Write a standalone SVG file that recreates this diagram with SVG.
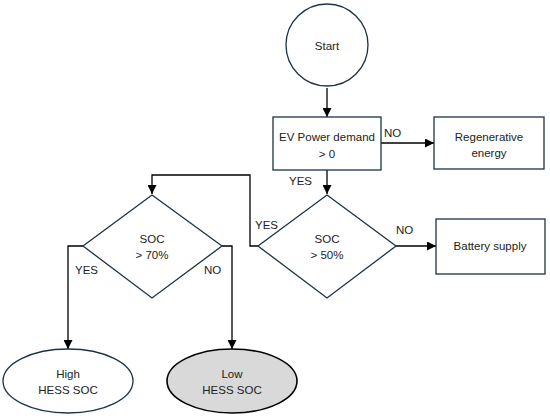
<svg xmlns="http://www.w3.org/2000/svg" width="550" height="418" viewBox="0 0 550 418">
<defs>
<marker id="arr" viewBox="0 0 10 10" refX="10" refY="5" markerWidth="9" markerHeight="9" markerUnits="userSpaceOnUse" orient="auto"><path d="M0,0 L10,5 L0,10 z" fill="#000"/></marker>
<style>
.n{fill:#fff;stroke:#1c3340;stroke-width:1.3}
.g{fill:#d9d9d9;stroke:#000;stroke-width:1.6}
.c{fill:none;stroke:#000;stroke-width:1.3;marker-end:url(#arr)}
.c2{fill:none;stroke:#000;stroke-width:1.3}
text{font-family:"Liberation Sans",Arial,sans-serif;font-size:11.5px;fill:#222;text-anchor:middle}
.l{text-anchor:start}
</style>
</defs>
<rect width="550" height="418" fill="#fff"/>
<g id="connectors">
<path class="c" d="M327,88 V117"/>
<path class="c" d="M381,143 H434"/>
<path class="c" d="M327,170 V194"/>
<path class="c" d="M396,246 H436"/>
<path class="c" d="M258,246 H250 V175 H152 V194"/>
<path class="c" d="M83,246 H68 V349"/>
<path class="c" d="M222,246 H232 V349"/>
<text class="l" x="384" y="137">NO</text>
<text class="l" x="289" y="185">YES</text>
<text class="l" x="255" y="229">YES</text>
<text class="l" x="396" y="234">NO</text>
<text class="l" x="75" y="274">YES</text>
<text class="l" x="204" y="274">NO</text>
</g>
<g id="start"><circle class="n" cx="327" cy="45" r="41"/><text x="327" y="50">Start</text></g>
<g id="ev"><rect class="n" x="273" y="117" width="108" height="53"/><text x="327" y="141">EV Power demand</text><text x="327" y="158">&gt; 0</text></g>
<g id="regen"><rect class="n" x="434" y="117" width="110" height="52"/><text x="489" y="141">Regenerative</text><text x="489" y="157">energy</text></g>
<g id="soc50"><polygon class="n" points="327,195 396,246 327,298 258,246"/><text x="327" y="243">SOC</text><text x="327" y="259">&gt; 50%</text></g>
<g id="battery"><rect class="n" x="436" y="219" width="109" height="55"/><text x="490" y="250">Battery supply</text></g>
<g id="soc70"><polygon class="n" points="152,195 222,246 152,298 83,246"/><text x="152" y="243">SOC</text><text x="152" y="259">&gt; 70%</text></g>
<g id="high"><ellipse class="n" cx="68" cy="381" rx="65" ry="32"/><text x="68" y="378">High</text><text x="68" y="394">HESS SOC</text></g>
<g id="low"><ellipse class="g" cx="232" cy="381" rx="65" ry="32"/><text x="232" y="378">Low</text><text x="232" y="394">HESS SOC</text></g>
</svg>
